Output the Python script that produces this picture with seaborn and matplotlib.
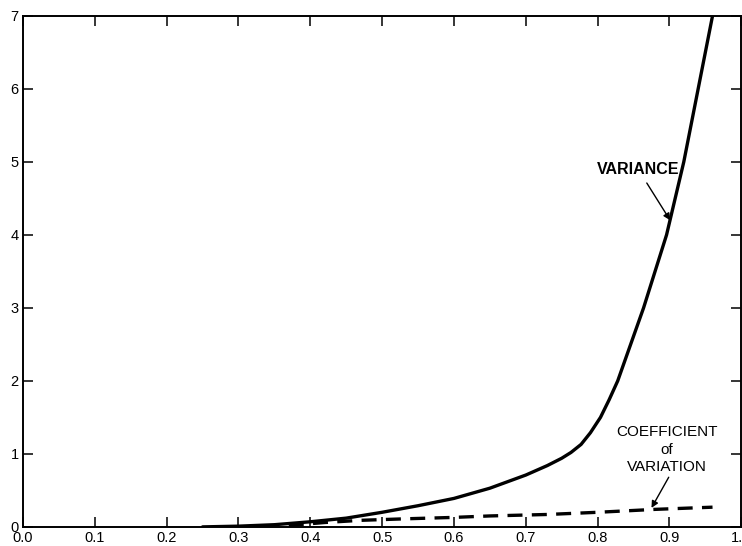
import matplotlib
matplotlib.use("Agg")
import matplotlib.pyplot as plt
import seaborn as sns
import pandas as pd

# variance curve
var_x = [0.25, 0.30, 0.35, 0.40, 0.45, 0.50, 0.55, 0.60, 0.65, 0.70,
         0.73, 0.75, 0.763, 0.777, 0.79, 0.804, 0.816, 0.828, 0.846, 0.864, 0.880,
         0.896, 0.908, 0.920, 0.930, 0.940, 0.950, 0.960]
var_y = [0.0, 0.01, 0.03, 0.07, 0.12, 0.20, 0.29, 0.39, 0.53, 0.71,
         0.84, 0.94, 1.02, 1.13, 1.29, 1.50, 1.74, 2.0, 2.5, 3.0, 3.5,
         4.0, 4.5, 5.0, 5.5, 6.0, 6.5, 7.0]

# coefficient of variation (dashed)
cv_x = [0.37, 0.42, 0.47, 0.53, 0.60, 0.65, 0.73, 0.80, 0.88, 0.96]
cv_y = [0.02, 0.06, 0.09, 0.11, 0.13, 0.15, 0.17, 0.20, 0.24, 0.27]

x_ticks = [0.0, 0.1, 0.2, 0.3, 0.4, 0.5, 0.6, 0.7, 0.8, 0.9, 1.0]
x_labels = ["0.0", "0.1", "0.2", "0.3", "0.4", "0.5", "0.6", "0.7", "0.8", "0.9", "1.0"]
y_ticks = [0, 1, 2, 3, 4, 5, 6, 7]


def main():
    sns.set_style("ticks")
    plt.rcParams['font.family'] = ['Liberation Sans', 'DejaVu Sans']
    plt.rcParams['text.color'] = 'black'

    fig = plt.figure(figsize=(7.42, 5.46), dpi=100)
    ax = fig.add_axes([0.031, 0.035, 0.968, 0.936])

    var_df = pd.DataFrame({"x": var_x, "y": var_y})
    cv_df = pd.DataFrame({"x": cv_x, "y": cv_y})
    sns.lineplot(data=var_df, x="x", y="y", ax=ax, color="black", lw=2.4)
    sns.lineplot(data=cv_df, x="x", y="y", ax=ax, color="black", lw=2.4,
                 linestyle=(0, (4.5, 2.8)))

    ax.set_xlim(0, 1.0)
    ax.set_ylim(0, 7)
    ax.set_xticks(x_ticks)
    ax.set_xticklabels(x_labels)
    ax.set_yticks(y_ticks)
    ax.set_xlabel("")
    ax.set_ylabel("")
    ax.tick_params(direction="in", length=7, width=1.1, top=True, right=True,
                   labelsize=10.5, colors="black", pad=3)
    for s in ax.spines.values():
        s.set_visible(True)
        s.set_linewidth(1.4)
        s.set_color("black")

    ax.annotate("VARIANCE", xy=(0.901, 4.2), xytext=(0.857, 4.89),
                ha="center", va="center", fontsize=11.5, fontweight="bold",
                color="black",
                arrowprops=dict(arrowstyle="-|>", color="black", lw=1.0,
                                mutation_scale=10, shrinkA=2, shrinkB=0))
    ax.annotate("", xy=(0.875, 0.26), xytext=(0.899, 0.68),
                arrowprops=dict(arrowstyle="-|>", color="black", lw=1.0,
                                mutation_scale=10, shrinkA=0, shrinkB=0))
    ax.text(0.896, 1.30, "COEFFICIENT", ha="center", va="center", fontsize=11, color="black")
    ax.text(0.896, 1.06, "of", ha="center", va="center", fontsize=11, color="black")
    ax.text(0.896, 0.82, "VARIATION", ha="center", va="center", fontsize=11, color="black")

    fig.savefig("out.png", dpi=100)
    plt.close(fig)


if __name__ == '__main__':
    main()
